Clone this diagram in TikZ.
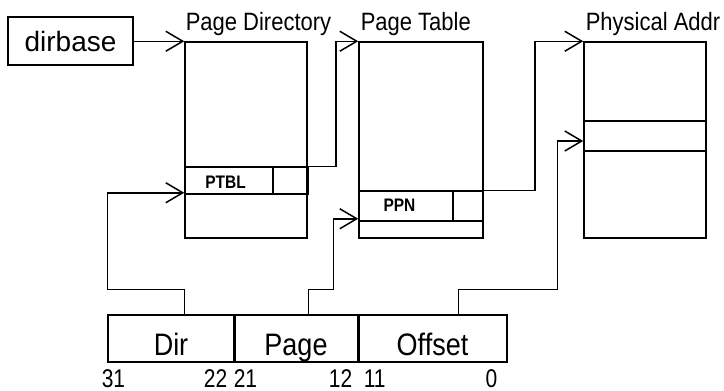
\documentclass[tikz,border=0pt]{standalone}
\usepackage{fontspec}
\setmainfont{Liberation Sans}
\usetikzlibrary{arrows.meta}
\newcommand{\tallify}[2][1.15]{\scalebox{1}[#1]{#2}}
\begin{document}
\begin{tikzpicture}[x=1pt,y=-1pt,
  line width=1.5pt,
  box/.style={draw, rectangle, inner sep=0pt, line width=1.5pt},
  thick edge/.style={line width=3pt},
  arr/.style={-{Straight Barb[length=17pt,width=20pt,line width=1.5pt]}, line width=1.5pt},
  title/.style={anchor=base west, inner sep=0pt, font=\fontsize{22}{24}\selectfont},
  field/.style={box, minimum height=47pt, text height=38pt, text depth=5pt, font=\fontsize{27}{29}\selectfont},
  small/.style={inner sep=0pt, font=\fontsize{15.5}{17}\selectfont\bfseries},
  bit/.style={inner sep=0pt, font=\fontsize{21}{23}\selectfont}
]
\useasboundingbox (0,0) rectangle (724,391);

% dirbase
\node[box, minimum width=125pt, minimum height=48pt, font=\fontsize{28}{30}\selectfont] (dirbase) at (70.5,41) {dirbase};

% Page Directory
\node[box, minimum width=122pt, minimum height=196pt] (pd) at (246,140) {};
\node[box, minimum width=88pt, minimum height=27pt] (ptbl) at (229,180.5) {};
\node[box, minimum width=34pt, minimum height=27pt] (ptblx) at (290,180.5) {};
\node[small] (ptbltext) at (225.5,182.5) {\tallify[1.17]{PTBL}};
\draw[thick edge] (ptblx.north east) -- (ptblx.south east);
\node[title] (tpd) at (185,30) {\tallify[1.14]{Page Directory}};

% Page Table
\node[box, minimum width=124pt, minimum height=196pt] (pt) at (421,140) {};
\node[box, minimum width=94pt, minimum height=30pt] (ppn) at (406,206) {};
\node[box, minimum width=30pt, minimum height=30pt] (ppnx) at (468,206) {};
\node[small] (ppntext) at (399.5,205) {\tallify[1.17]{PPN}};
\node[title] (tpt) at (360,30) {\tallify[1.14]{Page Table}};

% Physical
\node[box, minimum width=122pt, minimum height=196pt] (phys) at (645,140) {};
\node[box, minimum width=122pt, minimum height=30pt] (physrow) at (645,136) {};
\node[title] (tph) at (585,30) {\tallify[1.14]{Physical Addr}};

% Linear address
\node[field, minimum width=126pt] (dir) at (171,338.5) {\tallify{Dir}};
\node[field, minimum width=124pt] (page) at (296,338.5) {\tallify{Page}};
\node[field, minimum width=149pt] (offset) at (432.5,338.5) {\tallify{Offset}};
\draw[thick edge] (dir.north east) -- (dir.south east);
\draw[thick edge] (page.north east) -- (page.south east);

\node[bit, anchor=base west] (b31) at (101,387) {\tallify[1.22]{31}};
\node[bit, anchor=base east] (b22) at (228,387) {\tallify[1.22]{22}};
\node[bit, anchor=base west] (b21) at (233,387) {\tallify[1.22]{21}};
\node[bit, anchor=base east] (b12) at (353,387) {\tallify[1.22]{12}};
\node[bit, anchor=base west] (b11) at (363,387) {\tallify[1.22]{11}};
\node[bit, anchor=base east] (b0) at (498,387) {\tallify[1.22]{0}};

% connectors
\draw[arr] (dirbase.east |- pd.north west) -- (pd.north west);
\draw[arr] (ptblx.north east) -- ++(28,0) |- (pt.north west);
\draw[arr] (ppnx.north east) -- ++(51,0) |- (phys.north west);

\coordinate (a4) at ([yshift=2pt]ptbl.south west);
\draw[arr] ([xshift=77pt]dir.north west) -- ++(0,-25) -| (a4 -| dir.west) -- (a4);

\coordinate (a5) at ([yshift=3pt]ppn.south west);
\coordinate (k5) at ([xshift=-25pt]a5);
\draw[arr] ([xshift=75pt]page.north west) -- ++(0,-25) -| (k5) -- (a5);

\coordinate (a6) at ([yshift=-5pt]physrow.west);
\coordinate (k6) at ([xshift=-26pt]a6);
\draw[arr] ([xshift=101pt]offset.north west) -- ++(0,-25) -| (k6) -- (a6);
\end{tikzpicture}
\end{document}
